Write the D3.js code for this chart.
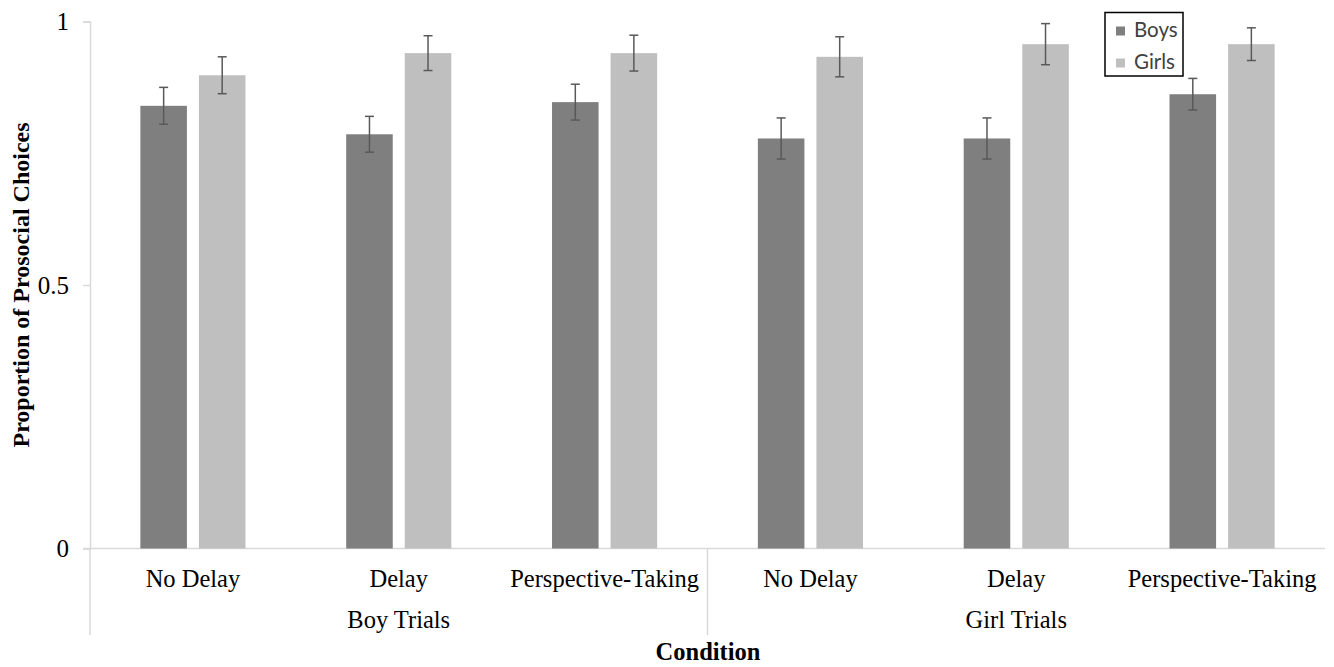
<!DOCTYPE html>
<html>
<head>
<meta charset="utf-8">
<script src="https://cdn.jsdelivr.net/npm/d3@7"></script>
<style>
  html, body { margin: 0; padding: 0; background: #fff; }
  svg { display: block; }
</style>
</head>
<body>
<div id="chart"></div>
<script>
// 数据
const categories = ["No Delay", "Delay", "Perspective-Taking", "No Delay", "Delay", "Perspective-Taking"];
const trialGroups = ["Boy Trials", "Girl Trials"];
const seriesNames = ["Boys", "Girls"];
const boysValues = [0.840, 0.786, 0.847, 0.778, 0.778, 0.862];
const girlsValues = [0.898, 0.940, 0.940, 0.933, 0.957, 0.957];
const boysErr = [0.035, 0.034, 0.034, 0.039, 0.039, 0.030];
const girlsErr = [0.035, 0.033, 0.034, 0.038, 0.039, 0.031];
const yTicks = [0, 0.5, 1];

const width = 1334, height = 667;
const colors = { Boys: "#7f7f7f", Girls: "#bfbfbf" };
const axisColor = "#d9d9d9";
const serif = "'Liberation Serif', 'Times New Roman', serif";

const svg = d3.select("#chart").append("svg")
    .attr("width", width)
    .attr("height", height);

// 比例尺
const x = d3.scaleBand()
    .domain(d3.range(categories.length))
    .range([90, 1325])
    .paddingInner(0)
    .paddingOuter(0);

const xSub = d3.scaleBand()
    .domain(seriesNames)
    .range([0, x.bandwidth()])
    .paddingInner(0.205)
    .paddingOuter(0.86);

const y = d3.scaleLinear()
    .domain([0, 1])
    .range([548.5, 21.5]);

// y 轴
const yAxis = svg.append("g")
    .attr("transform", "translate(90,0)")
    .call(d3.axisLeft(y).tickValues(yTicks).tickFormat(d3.format("")).tickSize(7).tickPadding(14));
yAxis.select(".domain").attr("stroke", axisColor).attr("stroke-width", 1.5);
yAxis.selectAll(".tick line").attr("stroke", axisColor).attr("stroke-width", 1.5);
yAxis.selectAll(".tick text")
    .style("font-family", serif)
    .style("font-size", "25px")
    .attr("fill", "#000");

// x 轴线
svg.append("line")
    .attr("x1", 83).attr("x2", x.range()[1])
    .attr("y1", y(0)).attr("y2", y(0))
    .attr("stroke", axisColor).attr("stroke-width", 1.5);

// 分组分隔线
[0, 3].forEach(i => {
    svg.append("line")
        .attr("x1", x(i)).attr("x2", x(i))
        .attr("y1", y(0)).attr("y2", 635)
        .attr("stroke", axisColor).attr("stroke-width", 1.5);
});

// 类别标签
const xAxis = svg.append("g")
    .attr("transform", `translate(0,${y(0)})`)
    .call(d3.axisBottom(x).tickSize(0).tickPadding(21).tickFormat(i => categories[i]));
xAxis.select(".domain").remove();
xAxis.selectAll(".tick text")
    .style("font-family", serif)
    .style("font-size", "24.5px")
    .attr("fill", "#000");

// 组标签
svg.selectAll(".group-label")
    .data(trialGroups)
    .enter()
    .append("text")
    .attr("class", "group-label")
    .attr("x", (d, i) => x(i * 3) + x.bandwidth() * 1.5)
    .attr("y", 628)
    .attr("text-anchor", "middle")
    .style("font-family", serif)
    .style("font-size", "24.5px")
    .text(d => d);

// 柱子
const rows = categories.map((c, i) => ({
    i,
    values: [
        { key: "Boys", v: boysValues[i], e: boysErr[i] },
        { key: "Girls", v: girlsValues[i], e: girlsErr[i] }
    ]
}));

const groups = svg.selectAll(".cat")
    .data(rows)
    .enter()
    .append("g")
    .attr("class", "cat")
    .attr("transform", d => `translate(${x(d.i)},0)`);

groups.selectAll("rect")
    .data(d => d.values)
    .enter()
    .append("rect")
    .attr("x", d => xSub(d.key))
    .attr("width", xSub.bandwidth())
    .attr("y", d => y(d.v))
    .attr("height", d => y(0) - y(d.v))
    .attr("fill", d => colors[d.key]);

// 误差线
const errG = groups.selectAll(".err")
    .data(d => d.values)
    .enter()
    .append("g")
    .attr("class", "err")
    .attr("stroke", "#595959")
    .attr("stroke-width", 1.5);

errG.append("line")
    .attr("x1", d => xSub(d.key) + xSub.bandwidth() / 2)
    .attr("x2", d => xSub(d.key) + xSub.bandwidth() / 2)
    .attr("y1", d => y(d.v + d.e))
    .attr("y2", d => y(d.v - d.e));

[1, -1].forEach(s => {
    errG.append("line")
        .attr("x1", d => xSub(d.key) + xSub.bandwidth() / 2 - 4.5)
        .attr("x2", d => xSub(d.key) + xSub.bandwidth() / 2 + 4.5)
        .attr("y1", d => y(d.v + s * d.e))
        .attr("y2", d => y(d.v + s * d.e));
});

// 坐标轴标题
svg.append("text")
    .attr("transform", "translate(29,285) rotate(-90)")
    .attr("text-anchor", "middle")
    .style("font-family", serif)
    .style("font-size", "24px")
    .style("font-weight", "bold")
    .text("Proportion of Prosocial Choices");

svg.append("text")
    .attr("x", 708)
    .attr("y", 660)
    .attr("text-anchor", "middle")
    .style("font-family", serif)
    .style("font-size", "24.5px")
    .style("font-weight", "bold")
    .text("Condition");

// 图例
const legend = svg.append("g").attr("transform", "translate(1105,12.5)");
legend.append("rect")
    .attr("width", 78).attr("height", 63.5)
    .attr("fill", "#fff")
    .attr("stroke", "#000").attr("stroke-width", 1.5);

const li = legend.selectAll(".li")
    .data(seriesNames)
    .enter()
    .append("g")
    .attr("transform", (d, i) => `translate(0,${i * 32})`);

li.append("rect")
    .attr("x", 11).attr("y", 14)
    .attr("width", 9).attr("height", 9)
    .attr("fill", d => colors[d]);

li.append("text")
    .attr("x", 29).attr("y", 24)
    .style("font-family", "Lato, 'Open Sans', sans-serif")
    .style("font-size", "20.5px")
    .attr("fill", "#404040")
    .text(d => d);
</script>
</body>
</html>
